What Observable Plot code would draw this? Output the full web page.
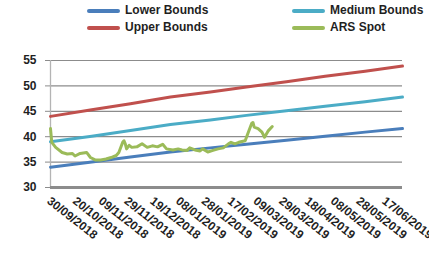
<!DOCTYPE html>
<html>
<head>
<meta charset="utf-8">
<script src="https://cdn.jsdelivr.net/npm/d3@7"></script>
<script src="https://cdn.jsdelivr.net/npm/@observablehq/plot@0.6"></script>
<style>
  html, body { margin: 0; padding: 0; background: #fff; }
  body { width: 429px; height: 253px; overflow: hidden; font-family: "Liberation Sans", Arial, sans-serif; }
  #legend { position: relative; height: 40px; width: 429px; }
  .item { position: absolute; font-weight: bold; font-size: 12px; color: #1f1f1f; line-height: 14px; white-space: nowrap; }
  .sw { position: absolute; width: 33px; height: 3.5px; border-radius: 2px; }
</style>
</head>
<body>
<div id="legend"></div>
<div id="chart"></div>
<script>
// Series names and colours
const seriesNames = ["Lower Bounds", "Medium Bounds", "Upper Bounds", "ARS Spot"];
const seriesColors = ["#4a7ebb", "#4bacc6", "#c0504d", "#9bbb59"];

// Band values
const boundDates = ["2018-09-30","2018-11-01","2018-12-01","2019-01-01","2019-02-01","2019-03-01","2019-04-01","2019-05-01","2019-06-01","2019-06-30"];
const lowerBounds  = [34.0, 35.0, 36.0, 37.0, 37.8, 38.5, 39.3, 40.1, 40.9, 41.6];
const mediumBounds = [39.0, 40.1, 41.2, 42.4, 43.3, 44.2, 45.1, 46.0, 46.9, 47.8];
const upperBounds  = [44.0, 45.3, 46.5, 47.8, 48.8, 49.8, 50.8, 51.9, 52.9, 53.9];

// ARS spot
const spotDates = ["2018-09-30","2018-10-01","2018-10-04","2018-10-09","2018-10-13","2018-10-17","2018-10-19","2018-10-23","2018-10-28","2018-10-31",
  "2018-11-04","2018-11-08","2018-11-12","2018-11-16","2018-11-20","2018-11-22","2018-11-25","2018-11-26","2018-11-27","2018-11-28",
  "2018-11-30","2018-12-02","2018-12-06","2018-12-10","2018-12-14","2018-12-18","2018-12-22","2018-12-26","2018-12-29","2019-01-03",
  "2019-01-07","2019-01-10","2019-01-14","2019-01-16","2019-01-20","2019-01-24","2019-01-26","2019-01-30","2019-02-03","2019-02-07",
  "2019-02-11","2019-02-15","2019-02-17","2019-02-20","2019-02-23","2019-02-28","2019-03-02","2019-03-05","2019-03-06","2019-03-07",
  "2019-03-10","2019-03-13","2019-03-15","2019-03-18","2019-03-21"];
const spotValues = [41.6, 38.9, 37.9, 36.9, 36.6, 36.7, 36.2, 36.7, 36.9, 35.9,
  35.4, 35.4, 35.6, 35.9, 36.3, 36.9, 38.9, 39.2, 38.6, 37.6,
  38.3, 37.9, 38.0, 38.6, 37.9, 38.2, 38.0, 38.5, 37.6, 37.4,
  37.6, 37.4, 37.3, 37.8, 37.4, 37.2, 37.6, 37.0, 37.3, 37.6,
  37.8, 38.6, 38.9, 38.6, 38.9, 39.2, 40.6, 42.6, 42.8, 41.9,
  41.6, 40.9, 39.9, 41.2, 42.0];

// Axis ticks
const yTicks = [30, 35, 40, 45, 50, 55];
const xTickLabels = ["30/09/2018","20/10/2018","09/11/2018","29/11/2018","19/12/2018","08/01/2019","28/01/2019",
  "17/02/2019","09/03/2019","29/03/2019","18/04/2019","08/05/2019","28/05/2019","17/06/2019"];
const xDomain = ["2018-09-30", "2019-06-30"];

const parse = s => new Date(s + "T00:00:00Z");
const parseDMY = s => { const [d, m, y] = s.split("/"); return new Date(Date.UTC(+y, +m - 1, +d)); };
const fmt = d => d3.utcFormat("%d/%m/%Y")(d);

const rows = [];
boundDates.forEach((d, i) => {
  rows.push({date: parse(d), value: lowerBounds[i], series: seriesNames[0]});
  rows.push({date: parse(d), value: mediumBounds[i], series: seriesNames[1]});
  rows.push({date: parse(d), value: upperBounds[i], series: seriesNames[2]});
});
spotDates.forEach((d, i) => rows.push({date: parse(d), value: spotValues[i], series: seriesNames[3]}));

// Legend: row 1 Lower / Medium, row 2 Upper / ARS
const legend = document.getElementById("legend");
[[0, 87, 4], [1, 292, 4], [2, 87, 21], [3, 292, 21]].forEach(([si, x, y]) => {
  const sw = document.createElement("div");
  sw.className = "sw";
  sw.style.left = x + "px"; sw.style.top = (y + 5) + "px"; sw.style.background = seriesColors[si];
  legend.appendChild(sw);
  const t = document.createElement("div");
  t.className = "item";
  t.style.left = (x + 38) + "px"; t.style.top = (y - 1) + "px";
  t.textContent = seriesNames[si];
  legend.appendChild(t);
});

const chart = Plot.plot({
  width: 429,
  height: 213,
  marginTop: 20,
  marginBottom: 66,
  marginLeft: 50,
  marginRight: 27,
  style: {fontFamily: "Liberation Sans, Arial, sans-serif", fontSize: "12px", fontWeight: "bold", color: "#1f1f1f", overflow: "visible"},
  x: {type: "utc", domain: xDomain.map(parse), label: null},
  y: {domain: [30, 55], label: null},
  color: {domain: seriesNames, range: seriesColors},
  marks: [
    Plot.gridY(yTicks.filter(v => v > 30), {stroke: "#8c8c8c", strokeOpacity: 1, strokeWidth: 1.2}),
    Plot.ruleX([parse(xDomain[0])], {stroke: "#b4b4b4", strokeWidth: 1.3}),
    Plot.line(rows, {x: "date", y: "value", z: "series", stroke: "series", strokeWidth: 3, curve: "linear"}),
    Plot.ruleY([30], {stroke: "#8c8c8c", strokeWidth: 3.2}),
    Plot.axisY({ticks: yTicks, tickSize: 5, tickPadding: 9, stroke: "#8c8c8c", fontSize: 12, fontWeight: "bold", label: null}),
    Plot.axisX({ticks: xTickLabels.map(parseDMY), tickFormat: fmt, tickRotate: 38, tickSize: 0, tickPadding: 12, dx: -2, fontSize: 12, fontWeight: "bold", letterSpacing: 0.9, label: null})
  ]
});
document.getElementById("chart").appendChild(chart);
</script>
</body>
</html>
